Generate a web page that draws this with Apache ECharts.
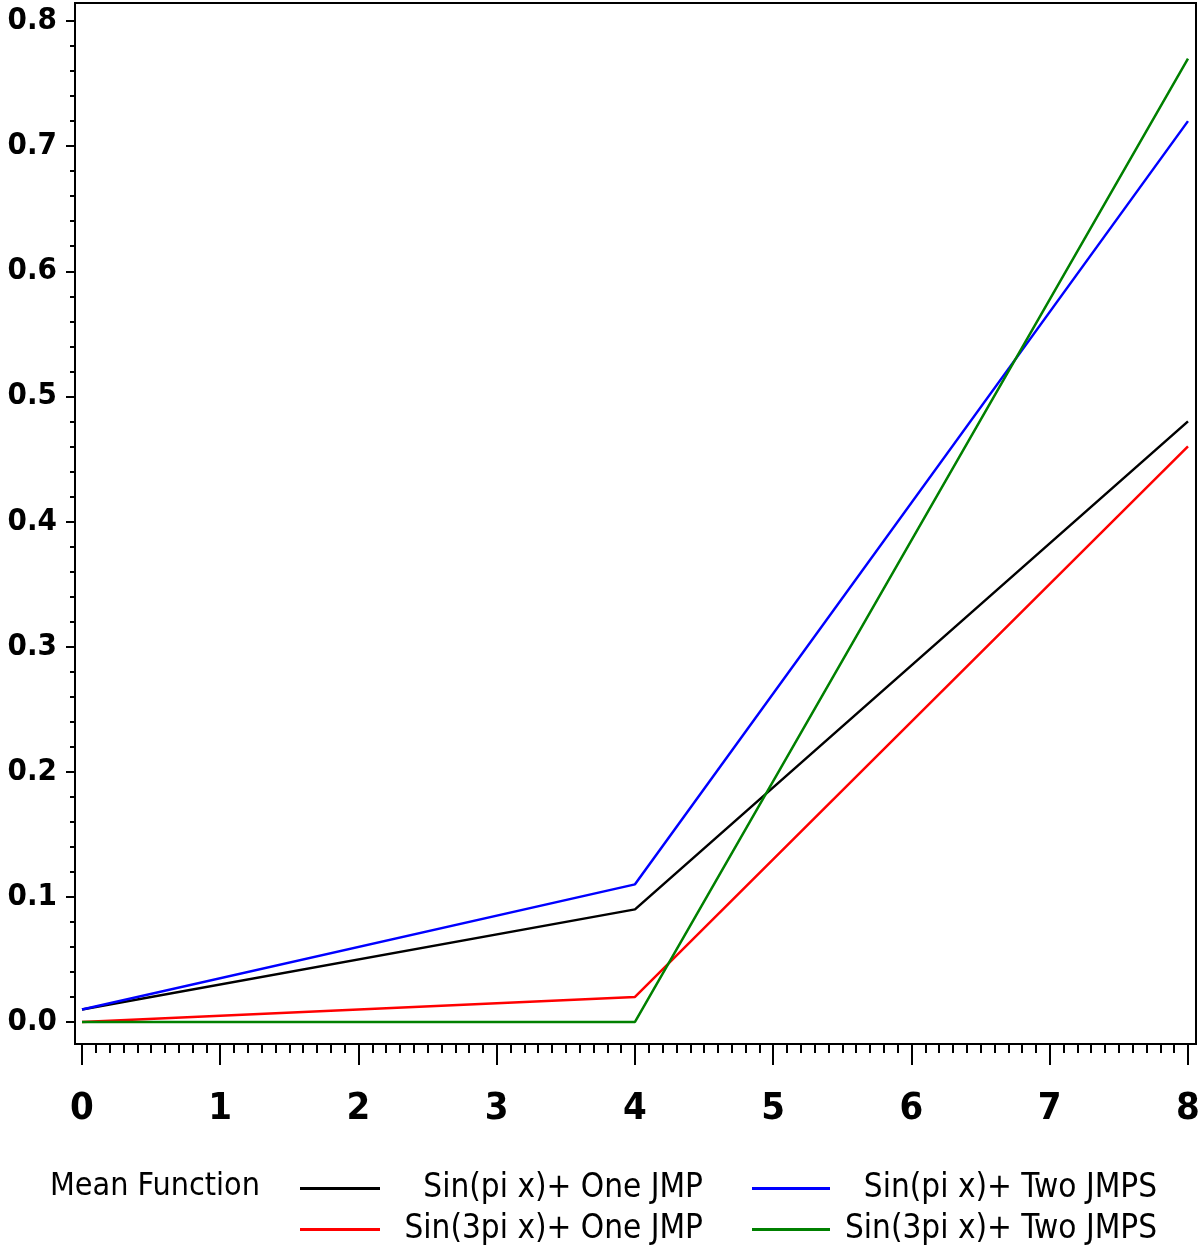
<!DOCTYPE html>
<html>
<head>
<meta charset="utf-8">
<script src="https://cdn.jsdelivr.net/npm/echarts@6/dist/echarts.min.js"></script>
<style>
html,body{margin:0;padding:0;background:#fff;}
#chart{width:1204px;height:1249px;}
</style>
</head>
<body>
<div id="chart"></div>
<script>
// Data
const xValues = [0, 4, 8];
const sinPiOne = [0.01, 0.09, 0.48];
const sin3PiOne = [0.0, 0.02, 0.46];
const sinPiTwo = [0.01, 0.11, 0.72];
const sin3PiTwo = [0.0, 0.0, 0.77];
const seriesNames = ['Sin(pi x)+ One JMP', 'Sin(3pi x)+ One JMP', 'Sin(pi x)+ Two JMPS', 'Sin(3pi x)+ Two JMPS'];
const seriesColors = ['#000000', '#ff0000', '#0000ff', '#008000'];
const legendTitle = 'Mean Function';
const xTicks = [0, 1, 2, 3, 4, 5, 6, 7, 8];
const yTicks = [0.0, 0.1, 0.2, 0.3, 0.4, 0.5, 0.6, 0.7, 0.8];

// axis frame range (slightly beyond the tick range, as in the original frame)
const X_MIN = -0.0506, X_MAX = 8.058;
const Y_MIN = -0.0176, Y_MAX = 0.8144;

// minor tick positions: 10 subdivisions on x, 5 on y
const xMinor = [];
for (let i = 0; i < xTicks.length - 1; i++) for (let k = 1; k < 10; k++) xMinor.push(+(xTicks[i] + k * 0.1).toFixed(2));
const yMinor = [];
for (let i = 0; i < yTicks.length - 1; i++) for (let k = 1; k < 5; k++) yMinor.push(+(yTicks[i] + k * 0.02).toFixed(3));

const FONT = '"DejaVu Sans Condensed", "Liberation Sans Narrow", "Liberation Sans", sans-serif';
const allValues = [sinPiOne, sin3PiOne, sinPiTwo, sin3PiTwo];

const chart = echarts.init(document.getElementById('chart'), null, {renderer: 'canvas'});

function mkSeries(i) {
  return {
    name: seriesNames[i],
    type: 'line',
    xAxisIndex: 0,
    yAxisIndex: 0,
    data: xValues.map((x, k) => [x, allValues[i][k]]),
    showSymbol: false,
    symbol: 'none',
    clip: true,
    lineStyle: {color: seriesColors[i], width: 2.5},
    itemStyle: {color: seriesColors[i]},
    animation: false,
    z: 3 + i
  };
}

const legendText = {
  rich: {
    t: {fontFamily: FONT, fontSize: 33, color: '#000', align: 'right', lineHeight: 30}
  }
};

const option = {
  backgroundColor: '#fff',
  animation: false,
  title: {
    text: legendTitle,
    left: 50,
    top: 1170,
    padding: 0,
    textStyle: {fontFamily: FONT, fontSize: 32, fontWeight: 'normal', color: '#000', lineHeight: 34}
  },
  grid: [
    {left: 75, right: 8, top: 3, bottom: 205, show: true, borderColor: '#000', borderWidth: 2, backgroundColor: 'transparent'}
  ],
  xAxis: [
    {
      type: 'value', gridIndex: 0, min: X_MIN, max: X_MAX, position: 'bottom',
      axisLine: {show: true, onZero: false, lineStyle: {color: '#000', width: 2}},
      axisTick: {show: true, inside: false, length: 21, customValues: xTicks, lineStyle: {color: '#000', width: 2}},
      splitLine: {show: false},
      axisLabel: {
        customValues: xTicks,
        margin: 46, color: '#000', fontFamily: FONT, fontSize: 38, fontWeight: 'bold',
        formatter: v => String(Math.round(v))
      }
    },
    {
      type: 'value', gridIndex: 0, min: X_MIN, max: X_MAX, position: 'bottom',
      axisLine: {show: false, onZero: false},
      axisTick: {show: true, inside: false, length: 9, customValues: xMinor, lineStyle: {color: '#000', width: 2}},
      splitLine: {show: false},
      axisLabel: {show: false}
    }
  ],
  yAxis: [
    {
      type: 'value', gridIndex: 0, min: Y_MIN, max: Y_MAX, position: 'left',
      axisLine: {show: true, onZero: false, lineStyle: {color: '#000', width: 2}},
      axisTick: {show: true, inside: false, length: 9, customValues: yTicks, lineStyle: {color: '#000', width: 2}},
      splitLine: {show: false},
      axisLabel: {
        customValues: yTicks,
        margin: 18, color: '#000', fontFamily: FONT, fontSize: 31, fontWeight: 'bold',
        formatter: v => v.toFixed(1)
      }
    },
    {
      type: 'value', gridIndex: 0, min: Y_MIN, max: Y_MAX, position: 'left',
      axisLine: {show: false, onZero: false},
      axisTick: {show: true, inside: false, length: 5, customValues: yMinor, lineStyle: {color: '#000', width: 2}},
      splitLine: {show: false},
      axisLabel: {show: false}
    }
  ],
  legend: [
    {
      data: [seriesNames[0], seriesNames[1]],
      orient: 'vertical', left: 300, top: 1172, padding: 0,
      itemWidth: 80, itemHeight: 3, itemGap: 8, icon: 'rect',
      formatter: n => '{t|' + n + '}',
      textStyle: Object.assign({width: 318}, legendText),
      selectedMode: false
    },
    {
      data: [seriesNames[2], seriesNames[3]],
      orient: 'vertical', left: 752, top: 1172, padding: 0,
      itemWidth: 78, itemHeight: 3, itemGap: 8, icon: 'rect',
      formatter: n => '{t|' + n + '}',
      textStyle: Object.assign({width: 322}, legendText),
      selectedMode: false
    }
  ],
  series: [mkSeries(0), mkSeries(1), mkSeries(2), mkSeries(3)]
};

chart.setOption(option);
</script>
</body>
</html>
